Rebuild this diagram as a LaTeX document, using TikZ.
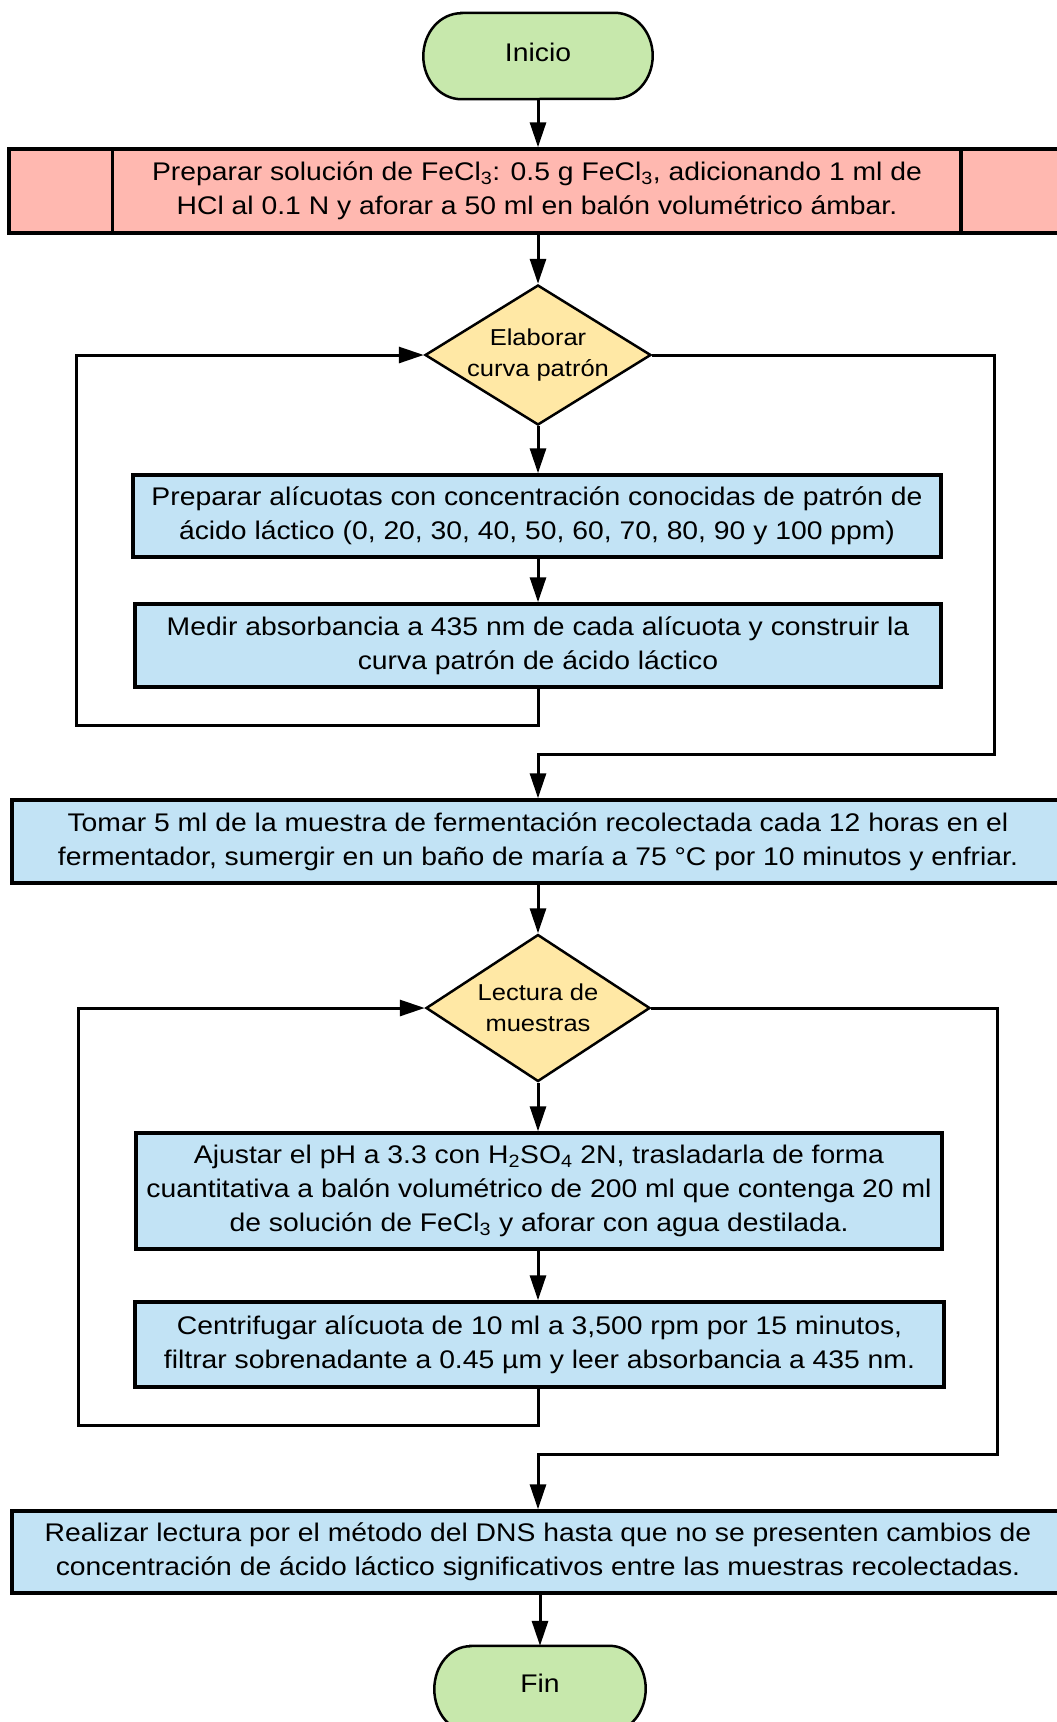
\documentclass[tikz,border=0pt]{standalone}
\usepackage{fontspec}
\setmainfont{Liberation Sans}[FakeStretch=1.11]
\usetikzlibrary{arrows.meta,shapes.geometric}
\definecolor{termfill}{HTML}{C7E8AC}
\definecolor{prepfill}{HTML}{FFB8B0}
\definecolor{decfill}{HTML}{FFE8A5}
\definecolor{procfill}{HTML}{C2E3F5}

\begin{document}
\begin{tikzpicture}[x=1pt,y=-1pt,
  txt/.style={font=\fontsize{25.5}{34}\selectfont, align=center, text=black},
  terminal/.style={inner sep=0pt, minimum height=86pt},
  termshape/.style={draw, line width=2.5pt, fill=termfill},
  procbox/.style={txt, draw, line width=3.5pt, fill=procfill, inner sep=0pt},
  decision/.style={draw, line width=2.5pt, fill=decfill, diamond, inner sep=0pt},
  dectext/.style={align=center, text=black, inner sep=0pt,
    font=\fontsize{23}{30.5}\selectfont},
  flow/.style={line width=3pt, -{Triangle[length=25pt,width=16pt]}},
]
\useasboundingbox (0,0) rectangle (1057,1722);
\clip (0,0) rectangle (1057,1722);

% start: flat top and bottom, elliptical ends
\node[terminal, minimum width=229pt] (inicio) at (538,56) {};
\draw[termshape] ([xshift=38pt]inicio.north west) -- ([xshift=-38pt]inicio.north east)
  arc[start angle=90, end angle=-90, x radius=38pt, y radius=43pt]
  -- ([xshift=38pt]inicio.south west)
  arc[start angle=270, end angle=90, x radius=38pt, y radius=43pt] -- cycle;
\node[txt, inner sep=0pt] (inicioTxt) at ([yshift=3.5pt]inicio.center) {Inicio};

% reagent preparation (predefined process)
\node[txt, draw, line width=3.5pt, fill=prepfill, inner sep=0pt,
  minimum width=1056pt, minimum height=84pt] (prep) at (537,191)
  {Preparar solución de FeCl\textsubscript{3}: 0.5 g FeCl\textsubscript{3}, adicionando 1 ml de\\
   HCl al 0.1 N y aforar a 50 ml en balón volumétrico ámbar.};
\draw[line width=3.5pt] ([xshift=105pt]prep.north west) -- ([xshift=105pt]prep.south west);
\draw[line width=3.5pt] ([xshift=-106pt]prep.north east) -- ([xshift=-106pt]prep.south east);

% calibration curve loop
\node[decision, minimum width=226pt, minimum height=140pt] (dec1) at (538,355) {};
\node[dectext] (dec1txt) at (dec1.center) {Elaborar\\curva patrón};
\node[procbox, minimum width=808pt, minimum height=82pt] (alic) at (537,516)
  {Preparar alícuotas con concentración conocidas de patrón de\\
   ácido láctico (0, 20, 30, 40, 50, 60, 70, 80, 90 y 100 ppm)};
\node[procbox, minimum width=806pt, minimum height=83pt] (medir) at (538,645.5)
  {Medir absorbancia a 435 nm de cada alícuota y construir la\\
   curva patrón de ácido láctico};

% sampling
\node[procbox, minimum width=1052pt, minimum height=83pt] (tomar) at (538,841.5)
  {Tomar 5 ml de la muestra de fermentación recolectada cada 12 horas en el\\
   fermentador, sumergir en un baño de maría a 75 °C por 10 minutos y enfriar.};

% sample reading loop
\node[decision, minimum width=224pt, minimum height=147pt] (dec2) at (538,1008) {};
\node[dectext] (dec2txt) at (dec2.center) {Lectura de\\muestras};
\node[procbox, minimum width=806pt, minimum height=116pt] (ajustar) at (539,1191)
  {Ajustar el pH a 3.3 con H\textsubscript{2}SO\textsubscript{4} 2N, trasladarla de forma\\
   cuantitativa a balón volumétrico de 200 ml que contenga 20 ml\\
   de solución de FeCl\textsubscript{3} y aforar con agua destilada.};
\node[procbox, minimum width=809pt, minimum height=85pt] (centrif) at (539.5,1344.5)
  {Centrifugar alícuota de 10 ml a 3,500 rpm por 15 minutos,\\
   filtrar sobrenadante a 0.45 µm y leer absorbancia a 435 nm.};

% final reading
\node[procbox, minimum width=1052pt, minimum height=82pt] (realizar) at (538,1552)
  {Realizar lectura por el método del DNS hasta que no se presenten cambios de\\
   concentración de ácido láctico significativos entre las muestras recolectadas.};

% end
\node[terminal, minimum width=211pt] (fin) at (540,1689) {};
\draw[termshape] ([xshift=36pt]fin.north west) -- ([xshift=-36pt]fin.north east)
  arc[start angle=90, end angle=-90, x radius=36pt, y radius=43pt]
  -- ([xshift=36pt]fin.south west)
  arc[start angle=270, end angle=90, x radius=36pt, y radius=43pt] -- cycle;
\node[txt, inner sep=0pt] (finTxt) at ([yshift=5.5pt]fin.center) {Fin};

% straight connectors
\draw[flow] (inicio.south) -- (inicio.south |- prep.north);
\draw[flow] (prep.south -| dec1.north) -- (dec1.north);
\draw[flow] (dec1.south) -- (dec1.south |- alic.north);
\draw[flow] (alic.south -| medir.north) -- (medir.north);
\draw[flow] (tomar.south -| dec2.north) -- (dec2.north);
\draw[flow] (dec2.south) -- (dec2.south |- ajustar.north);
\draw[flow] (ajustar.south -| dec2.south) -- (dec2.south |- centrif.north);
\draw[flow] (realizar.south -| fin.north) -- (fin.north);

% loop corners
\coordinate (back1) at (76,725);
\coordinate (exit1) at (994,754);
\coordinate (back2) at (78,1425);
\coordinate (exit2) at (997,1454);

% return and exit of the calibration loop
\draw[flow] (medir.south) |- (back1) |- (dec1.west);
\draw[flow] (dec1.east) -| (exit1) -| (tomar.north);

% return and exit of the reading loop
\draw[flow] (centrif.south -| dec2.south) |- (back2) |- (dec2.west);
\draw[flow] (dec2.east) -| (exit2) -| (realizar.north);
\end{tikzpicture}
\end{document}
